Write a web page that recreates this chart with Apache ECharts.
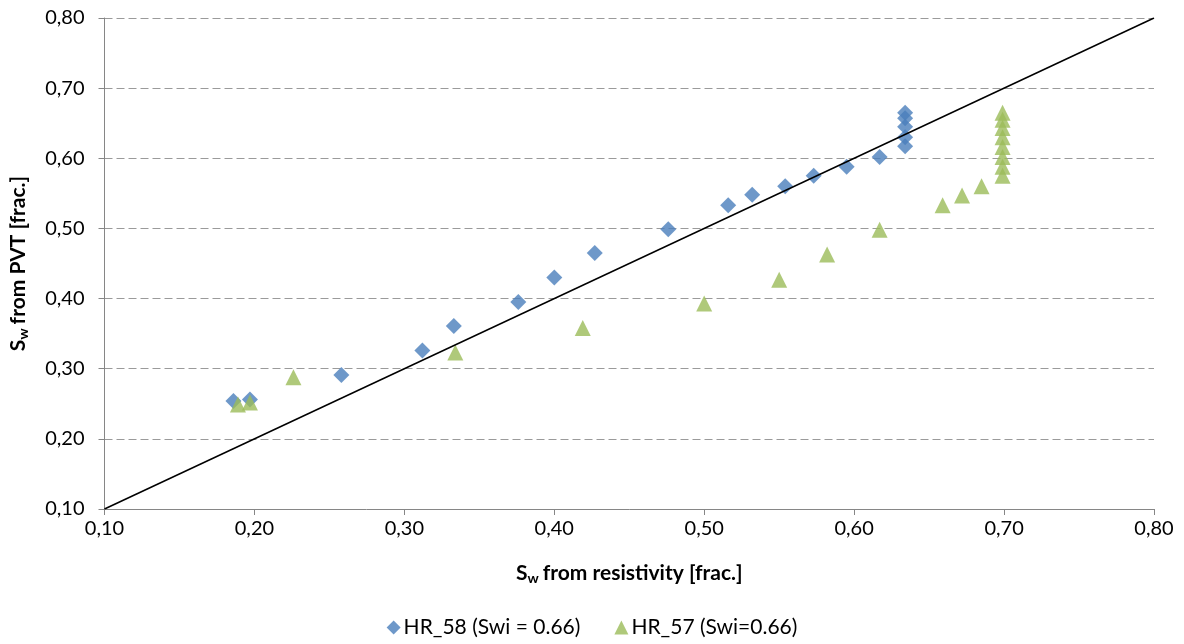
<!DOCTYPE html>
<html>
<head>
<meta charset="utf-8">
<script src="https://cdn.jsdelivr.net/npm/echarts@6/dist/echarts.min.js"></script>
<style>
  html, body { margin: 0; padding: 0; background: #fff; }
  #chart { width: 1184px; height: 644px; }
</style>
</head>
<body>
<div id="chart"></div>
<script>
// Water saturation: resistivity-based (x) vs PVT-based (y)
const hr58Name = 'HR_58 (Swi = 0.66)';
const hr58X = [0.186, 0.197, 0.258, 0.312, 0.333, 0.376, 0.400, 0.427, 0.476, 0.516, 0.532, 0.554, 0.573, 0.595, 0.617, 0.634, 0.634, 0.634, 0.634, 0.634];
const hr58Y = [0.254, 0.256, 0.291, 0.326, 0.361, 0.395, 0.430, 0.465, 0.499, 0.533, 0.548, 0.560, 0.575, 0.588, 0.602, 0.665, 0.657, 0.645, 0.630, 0.617];

const hr57Name = 'HR_57 (Swi=0.66)';
const hr57X = [0.189, 0.197, 0.226, 0.334, 0.419, 0.500, 0.550, 0.582, 0.617, 0.659, 0.672, 0.685, 0.699, 0.699, 0.699, 0.699, 0.699, 0.699, 0.699, 0.699];
const hr57Y = [0.249, 0.252, 0.288, 0.323, 0.358, 0.393, 0.427, 0.463, 0.498, 0.533, 0.547, 0.560, 0.665, 0.655, 0.643, 0.630, 0.616, 0.602, 0.588, 0.575];

// 1:1 reference line
const refLine = [[0.10, 0.10], [0.80, 0.80]];

const axisMin = 0.10;
const axisMax = 0.80;
const axisStep = 0.10;

const pairs = (xs, ys) => xs.map((x, i) => [x, ys[i]]);
const fmt = v => v.toFixed(2).replace('.', ',');
const FONT = 'Lato, "Open Sans", sans-serif';

const titleRich = {
  b: { fontSize: 21, fontWeight: 'bold', fontFamily: FONT, color: '#000' },
  sub: { fontSize: 14, fontWeight: 'bold', fontFamily: FONT, color: '#000', verticalAlign: 'bottom', padding: [10, 4, 0, 0] }
};

const chart = echarts.init(document.getElementById('chart'), null, { renderer: 'canvas' });
chart.setOption({
  animation: false,
  backgroundColor: '#ffffff',
  grid: { left: 102, right: 30, top: 18, bottom: 135, containLabel: false },
  xAxis: {
    type: 'value', min: axisMin, max: axisMax, interval: axisStep,
    axisLine: { show: true, lineStyle: { color: '#868686', width: 1 } },
    axisTick: { show: true, length: 6, lineStyle: { color: '#868686' } },
    axisLabel: { formatter: fmt, color: '#000', fontSize: 20, fontFamily: FONT, margin: 10 },
    splitLine: { show: false },
    name: '{b|S}{sub|w}{b|from resistivity [frac.]}',
    nameLocation: 'middle', nameGap: 52,
    nameTextStyle: { fontSize: 21, fontWeight: 'bold', fontFamily: FONT, color: '#000', rich: titleRich }
  },
  yAxis: {
    type: 'value', min: axisMin, max: axisMax, interval: axisStep,
    axisLine: { show: true, lineStyle: { color: '#868686', width: 1 } },
    axisTick: { show: true, length: 6, lineStyle: { color: '#868686' } },
    axisLabel: { formatter: fmt, color: '#000', fontSize: 20, fontFamily: FONT, margin: 20 },
    splitLine: { show: true, lineStyle: { color: '#9a9a9a', type: [8, 4], width: 1 } },
    name: '{b|S}{sub|w}{b|from PVT [frac.]}',
    nameLocation: 'middle', nameGap: 74, nameRotate: 90,
    nameTextStyle: { fontSize: 21, fontWeight: 'bold', fontFamily: FONT, color: '#000', rich: titleRich }
  },
  legend: {
    bottom: 1, left: 'center',
    itemWidth: 14, itemHeight: 14, itemGap: 34,
    textStyle: { fontSize: 21, fontFamily: FONT, color: '#000', padding: [0, 0, 0, -2] },
    data: [
      { name: hr58Name, icon: 'diamond' },
      { name: hr57Name, icon: 'triangle' }
    ]
  },
  series: [
    {
      name: hr58Name, type: 'scatter', symbol: 'diamond', symbolSize: 16,
      itemStyle: { color: '#4a7ebb' },
      data: pairs(hr58X, hr58Y)
    },
    {
      name: hr57Name, type: 'scatter', symbol: 'triangle', symbolSize: 16,
      itemStyle: { color: '#9bbb59' },
      data: pairs(hr57X, hr57Y)
    },
    {
      name: '1:1', type: 'line', symbol: 'none', silent: true,
      lineStyle: { color: '#000', width: 1.5 },
      data: refLine, z: 5
    }
  ]
});
</script>
</body>
</html>
